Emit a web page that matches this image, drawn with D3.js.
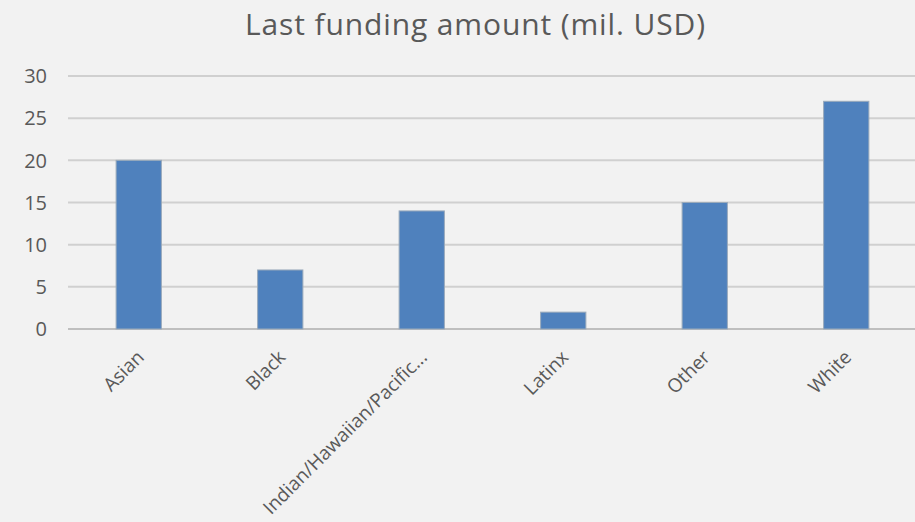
<!DOCTYPE html>
<html>
<head>
<meta charset="utf-8">
<script src="https://cdn.jsdelivr.net/npm/d3@7"></script>
<style>
  body { margin: 0; background: #f2f2f2; }
  text { font-family: "Open Sans", sans-serif; fill: #595959; }
</style>
</head>
<body>
<div id="chart"></div>
<script>
// chart data
const categories = ["Asian", "Black", "Indian/Hawaiian/Pacific...", "Latinx", "Other", "White"];
const amounts = [20, 7, 14, 2, 15, 27];
const yTicks = [0, 5, 10, 15, 20, 25, 30];
const title = "Last funding amount (mil. USD)";

const width = 915, height = 522;
const margin = {top: 76, right: -2, bottom: 193, left: 68};

const svg = d3.select("#chart").append("svg")
    .attr("width", width)
    .attr("height", height)
    .style("background", "#f2f2f2");

const x = d3.scaleBand()
    .domain(categories)
    .range([margin.left, width - margin.right])
    .paddingInner(0.68)
    .paddingOuter(0.34);

const y = d3.scaleLinear()
    .domain([0, 30])
    .range([height - margin.bottom, margin.top]);

// gridlines
svg.append("g")
    .selectAll("line")
    .data(yTicks)
    .enter()
    .append("line")
    .attr("x1", margin.left)
    .attr("x2", width)
    .attr("y1", d => y(d))
    .attr("y2", d => y(d))
    .style("stroke", d => d === 0 ? "#bfbfbf" : "#d0d0d0")
    .style("stroke-width", 2);

// y labels
svg.append("g")
    .selectAll("text")
    .data(yTicks)
    .enter()
    .append("text")
    .attr("x", 47)
    .attr("y", d => y(d))
    .attr("dy", "0.36em")
    .attr("text-anchor", "end")
    .style("font-size", "20px")
    .text(d => d);

// bars
svg.append("g")
    .selectAll("rect")
    .data(categories)
    .enter()
    .append("rect")
    .attr("x", d => x(d))
    .attr("y", (d, i) => y(amounts[i]))
    .attr("width", x.bandwidth())
    .attr("height", (d, i) => y(0) - y(amounts[i]))
    .style("fill", "#4f81bd")
    .style("stroke", "#9aaabb")
    .style("stroke-width", 1);

// category labels
svg.append("g")
    .selectAll("text")
    .data(categories)
    .enter()
    .append("text")
    .attr("transform", d => `translate(${x(d) + x.bandwidth() / 2 - 3}, 349) rotate(-45)`)
    .attr("text-anchor", "end")
    .attr("dy", "0.7em")
    .style("font-size", "19px")
    .text(d => d);

// title
svg.append("text")
    .attr("x", 475)
    .attr("y", 35)
    .attr("text-anchor", "middle")
    .attr("textLength", 460)
    .attr("lengthAdjust", "spacing")
    .style("font-size", "30px")
    .text(title);
</script>
</body>
</html>
